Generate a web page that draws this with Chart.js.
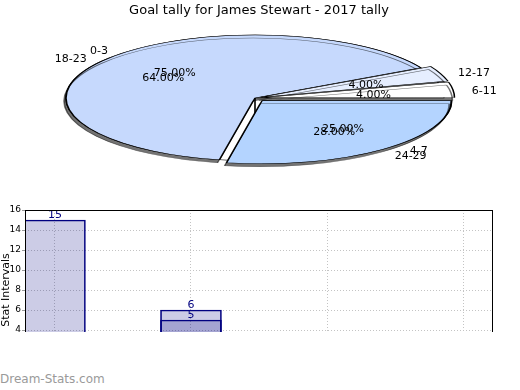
<!DOCTYPE html>
<html>
<head>
<meta charset="utf-8">
<script src="https://cdn.jsdelivr.net/npm/chart.js@4.4.1/dist/chart.umd.min.js"></script>
<style>
  body { margin: 0; background: #fff; font-family: 'DejaVu Sans', sans-serif; }
  #page { position: relative; width: 520px; height: 390px; overflow: hidden; }
  #title { position: absolute; top: 2px; left: 0; width: 518px; text-align: center; font-size: 13px; color: #000; }
  .pie { position: absolute; left: 0; top: 0; width: 520px; height: 200px; }
  #barBox { position: absolute; left: 0; top: 200px; width: 520px; height: 132px; overflow: hidden; }
  #barInner { width: 520px; height: 190px; }
  #mark { position: absolute; left: 0; top: 372px; font-size: 12px; color: #9a9a9a; }
</style>
</head>
<body>
<div id="page">
  <div class="pie"><canvas id="goalPie"></canvas></div>
  <div class="pie"><canvas id="tallyPie"></canvas></div>
  <div id="title">Goal tally for James Stewart - 2017 tally</div>
  <div id="barBox"><div id="barInner"><canvas id="statBars"></canvas></div></div>
  <div id="mark">Dream-Stats.com</div>
</div>
<script>
// Tally pie, in drawing order (clockwise from 3 o'clock).
const tallyLabels = ['24-29', '18-23', '12-17', '6-11'];
const tallyValues = [28, 64, 4, 4];
const tallyColors = ['#b4d4ff', '#c6d9fd', '#e6eeff', '#ffffff'];
const tallyExplode = [11, 0, 6, 6];

// Goal pie, drawn underneath the tally pie.
const goalLabels = ['4-7', '0-3'];
const goalValues = [25, 75];
const goalColors = ['#e6eeff', '#ffffff'];
const goalExplode = [11, 0];

// Bar chart (only the top part is visible).
const barSlots = [0, 1, 2, 3];
const statTotals = [15, 6, 2, 1];
const statRecent = [1, 5, 1, 0];

const pieRadius = 189;
const squash = 0.333;

// Squashes the pie into an ellipse around its centre.
const squashPlugin = {
  id: 'squash',
  beforeDatasetsDraw(chart) {
    const ctx = chart.ctx;
    const arc = chart.getDatasetMeta(0).data[0];
    ctx.save();
    ctx.translate(arc.x, arc.y);
    ctx.scale(1, squash);
    ctx.translate(-arc.x, -arc.y);
    if (chart.options.withShadow) {
      ctx.shadowColor = 'rgba(0,0,0,0.55)';
      ctx.shadowOffsetX = -2;
      ctx.shadowOffsetY = 3;
      ctx.shadowBlur = 0;
    }
  },
  afterDatasetsDraw(chart) {
    chart.ctx.restore();
  }
};

function drawPieLabels(ctx, chart, explode) {
  const meta = chart.getDatasetMeta(0);
  const values = chart.data.datasets[0].data;
  const total = values.reduce((a, b) => a + b, 0);
  ctx.save();
  ctx.fillStyle = '#000';
  ctx.font = '11px "DejaVu Sans"';
  ctx.textBaseline = 'middle';
  meta.data.forEach((arc, i) => {
    const mid = (arc.startAngle + arc.endAngle) / 2;
    const c = Math.cos(mid);
    const s = Math.sin(mid);
    const r = arc.outerRadius;
    // Chart.js also grows small exploded slices a bit.
    const grow = explode[i] * (1 - Math.sin(Math.min(Math.PI, arc.circumference)));
    const out = r * 1.1 + explode[i] + grow;
    ctx.textAlign = c > 0 ? 'left' : 'right';
    ctx.fillText(chart.data.labels[i], arc.x + c * out, arc.y + s * out * squash + 2);
    const inner = r * 0.6 + explode[i];
    ctx.textAlign = 'center';
    ctx.fillText((values[i] / total * 100).toFixed(2) + '%', arc.x + c * inner, arc.y + s * inner * squash + 2);
  });
  ctx.restore();
}

function makePie(id, labels, values, colors, explode, withShadow, extra) {
  return new Chart(document.getElementById(id), {
    type: 'pie',
    data: {
      labels: labels,
      datasets: [{
        data: values,
        backgroundColor: colors,
        borderColor: '#000',
        borderWidth: 1.6,
        offset: explode.map(e => e * 4),
        radius: pieRadius,
        rotation: 90,
        clip: false
      }]
    },
    options: {
      animation: false,
      responsive: true,
      maintainAspectRatio: false,
      events: [],
      withShadow: withShadow,
      layout: { padding: { right: 10, bottom: 4 } },
      plugins: { legend: { display: false }, tooltip: { enabled: false } }
    },
    plugins: [squashPlugin].concat(extra)
  });
}

const goalChart = makePie('goalPie', goalLabels, goalValues, goalColors, goalExplode, false, []);

// Labels of both pies go on the top canvas so none get covered.
const pieLabelPlugin = {
  id: 'pieLabels',
  afterDraw(chart) {
    drawPieLabels(chart.ctx, goalChart, goalExplode);
    drawPieLabels(chart.ctx, chart, tallyExplode);
  }
};
makePie('tallyPie', tallyLabels, tallyValues, tallyColors, tallyExplode, true, [pieLabelPlugin]);

const framePlugin = {
  id: 'frame',
  afterDraw(chart) {
    const a = chart.chartArea;
    const ctx = chart.ctx;
    ctx.save();
    ctx.strokeStyle = '#000';
    ctx.lineWidth = 1;
    ctx.strokeRect(a.left + 0.5, a.top + 0.5, a.width - 1, a.height);
    ctx.restore();
  }
};

const valuePlugin = {
  id: 'values',
  afterDatasetsDraw(chart) {
    const ctx = chart.ctx;
    ctx.save();
    ctx.fillStyle = '#000080';
    ctx.font = '11px "DejaVu Sans"';
    ctx.textAlign = 'center';
    ctx.textBaseline = 'bottom';
    chart.data.datasets.forEach((ds, d) => {
      chart.getDatasetMeta(d).data.forEach((bar, i) => {
        ctx.fillText(String(ds.data[i].y), bar.x, bar.y + 1);
      });
    });
    ctx.restore();
  }
};

function barSet(values) {
  return {
    data: barSlots.map((s, i) => ({ x: s, y: values[i] })),
    backgroundColor: 'rgba(0,0,128,0.2)',
    borderColor: '#000080',
    borderWidth: 1,
    barThickness: 61,
    grouped: false
  };
}

new Chart(document.getElementById('statBars'), {
  type: 'bar',
  data: { datasets: [barSet(statTotals), barSet(statRecent)] },
  options: {
    animation: false,
    responsive: true,
    maintainAspectRatio: false,
    events: [],
    layout: { padding: { top: 10, bottom: 20, right: 27, left: 0 } },
    plugins: { legend: { display: false }, tooltip: { enabled: false } },
    scales: {
      x: {
        type: 'linear',
        offset: false,
        min: -0.22,
        max: 3.22,
        afterBuildTicks: s => { s.ticks = barSlots.map(v => ({ value: v })); },
        afterFit: s => { s.height = 0; },
        ticks: { display: false },
        grid: { color: '#c4c4c4', drawTicks: false, offset: false },
        border: { display: false, dash: [1, 2] }
      },
      y: {
        min: 0,
        max: 16,
        afterFit: s => { s.width = 25; },
        ticks: { stepSize: 2, color: '#000', font: { family: 'DejaVu Sans', size: 9 }, padding: 1 },
        grid: { color: '#c4c4c4', tickLength: 3, tickColor: '#999' },
        border: { display: false, dash: [1, 2] },
        title: { display: true, text: 'Stat Intervals', color: '#000', font: { family: 'DejaVu Sans', size: 11 }, padding: 0 }
      }
    }
  },
  plugins: [framePlugin, valuePlugin]
});
</script>
</body>
</html>
